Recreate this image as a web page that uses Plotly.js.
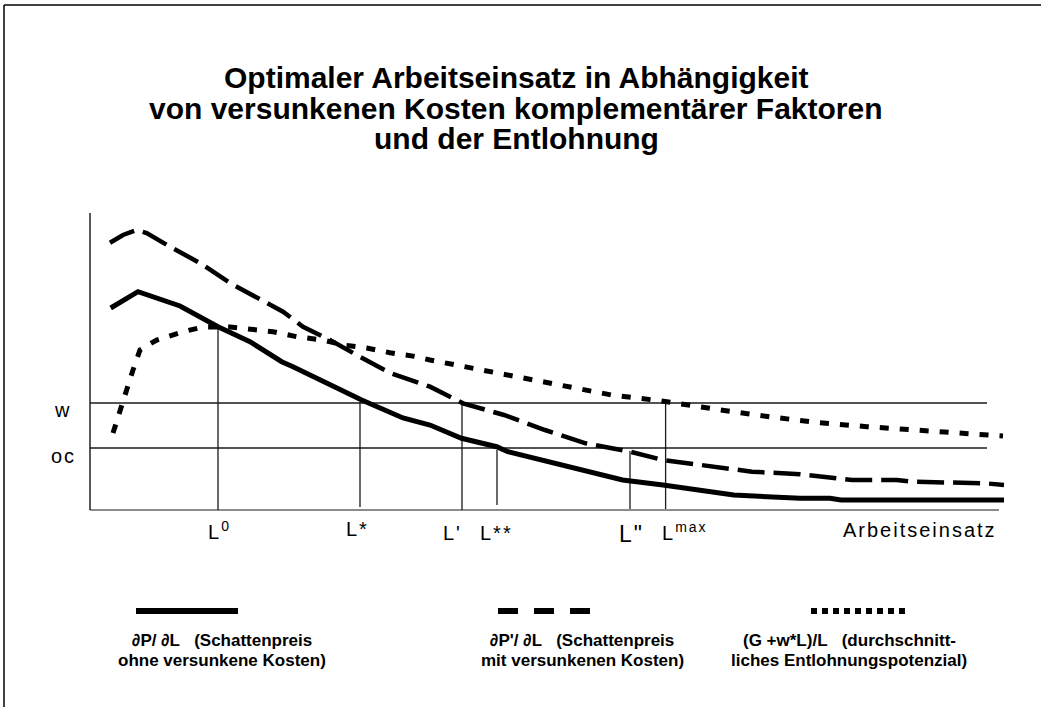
<!DOCTYPE html>
<html><head><meta charset="utf-8">
<script src="https://cdn.plot.ly/plotly-3.0.1.min.js"></script>
<style>html,body{margin:0;padding:0;background:#fff}#chart{width:1041px;height:707px}</style>
</head><body><div id="chart"></div>
<script>
// ---- data (arbitrary units: Arbeitseinsatz on x, price/wage level on y) ----
const solidX = [20.7, 48, 90, 128, 160, 191.7, 203, 260, 271.7, 313, 340, 371.5, 406.7, 417.8, 451, 488, 532.6, 573, 643.7, 710, 740, 751, 914];
const solidY = [202, 218.3, 204, 183.3, 168.3, 148.3, 143.3, 115, 110, 92, 85, 71.7, 63.3, 58.3, 50, 40, 30, 25, 15, 11.7, 11.7, 10, 10];

const dashX = [20, 33, 46.7, 56.7, 80, 110, 140, 166.7, 193, 213, 240, 266.7, 300, 340, 373, 414, 455, 495.6, 540, 573, 614, 662, 710, 762, 806.7, 821.5, 895.6, 914];
const dashY = [267.3, 275, 280, 277, 263.3, 247, 227, 212, 198.3, 183.3, 170, 155, 137, 123.3, 106.7, 95, 80, 66.7, 58.3, 50, 45, 38.3, 35.7, 30, 30, 28.3, 26.7, 25];

const dotX = [23, 31.7, 36.7, 43, 50, 66.7, 93, 113, 140, 163, 183, 206.7, 233, 253, 276.7, 300, 326.7, 340, 388, 436, 477, 521.5, 569.6, 595.6, 636, 684, 729, 777, 821.5, 866, 913];
const dotY = [77, 105, 123.3, 140, 160, 170, 178.3, 183, 183, 181, 178.3, 173.3, 170, 165, 162, 157.3, 153.3, 150, 140.7, 130.7, 124, 115, 109.3, 105, 99.3, 92.7, 87.3, 83.3, 80, 76.7, 74];

// reference levels: wage w and opportunity cost oc
const levelNames = ['w', 'oc'];
const levelValues = [107, 62];
const levelEnd = 897;

// characteristic labour inputs
const pointNames = ['L<sup>0</sup>', 'L*', "L'", 'L**', 'L"', 'L<sup>max</sup>'];
const pointX = [128, 270, 372, 407, 540, 575.6];
const pointTop = [183, 108, 107, 60, 59, 110];
const pointBottom = [0, 3, 0, 5, 1, 1];

const axisTitle = 'Arbeitseinsatz';
const axisXEnd = 909;
const axisYEnd = 297;

const titleLines = [
  'Optimaler Arbeitseinsatz in Abhängigkeit',
  'von versunkenen Kosten komplementärer Faktoren',
  'und der Entlohnung'
];

const legendLines = [
  ['\u2202P/ \u2202L\u00a0\u00a0\u00a0(Schattenpreis', 'ohne versunkene Kosten)'],
  ['\u2202P\'/ \u2202L\u00a0\u00a0\u00a0(Schattenpreis', 'mit versunkenen Kosten)'],
  ['(G +w*L)/L\u00a0\u00a0\u00a0(durchschnitt-', 'liches Entlohnungspotenzial)']
];

// ---- layout helpers (pixel -> paper) ----
const ML = 85, MR = 31, MT = 195, MB = 190, W = 1041, H = 707;
const PW = W - ML - MR, PH = H - MT - MB;
const px = v => (v - ML) / PW;
const py = v => (H - MB - v) / PH;
const FONT = 'Liberation Sans, Arial, sans-serif';

const traces = [];
// axis lines
traces.push({x: [0, axisXEnd], y: [0, 0], mode: 'lines', line: {color: '#8c8c8c', width: 2}, hoverinfo: 'skip'});
traces.push({x: [0, 0], y: [0, axisYEnd], mode: 'lines', line: {color: '#000', width: 1.3}, hoverinfo: 'skip'});
// level lines
levelValues.forEach(v => traces.push({x: [0, levelEnd], y: [v, v], mode: 'lines', line: {color: '#1a1a1a', width: 1.3}, hoverinfo: 'skip'}));
// vertical drop lines
const vx = [], vy = [];
pointX.forEach((x, i) => { vx.push(x, x, null); vy.push(pointBottom[i], pointTop[i], null); });
traces.push({x: vx, y: vy, mode: 'lines', line: {color: '#1a1a1a', width: 1.3}, hoverinfo: 'skip', connectgaps: false});
// curves
traces.push({x: dotX, y: dotY, mode: 'lines', line: {color: '#000', width: 5, dash: '9px,11px'}, hoverinfo: 'skip'});
traces.push({x: dashX, y: dashY, mode: 'lines', line: {color: '#000', width: 4.5, dash: '27px,9px'}, hoverinfo: 'skip'});
traces.push({x: solidX, y: solidY, mode: 'lines', line: {color: '#000', width: 5}, hoverinfo: 'skip'});

// label placement (pixel centres)
const pointLabelCx = [219, 357, 452, 496, 631, 685];
const pointLabelCy = [530, 529, 533, 533, 534, 531];
const pointLabelSize = [20, 20, 20, 20, 23, 20];

const annotations = [];
const spacedIdx = [];
titleLines.forEach((t, i) => {
  annotations.push({text: t, xref: 'paper', yref: 'paper', x: px(516), y: py(77 + 31 * i), xanchor: 'center', yanchor: 'middle', showarrow: false, font: {family: FONT, size: 30, color: '#000', weight: 'bold'}});
});
pointNames.forEach((t, i) => {
  spacedIdx.push(annotations.length);
  annotations.push({text: t, xref: 'paper', yref: 'paper', x: px(pointLabelCx[i]), y: py(pointLabelCy[i]), xanchor: 'center', yanchor: 'middle', showarrow: false, font: {family: FONT, size: pointLabelSize[i], color: '#000'}});
});
spacedIdx.push(annotations.length);
annotations.push({text: axisTitle, xref: 'paper', yref: 'paper', x: px(920), y: py(530), xanchor: 'center', yanchor: 'middle', showarrow: false, font: {family: FONT, size: 20, color: '#000'}});
const levelLabelCx = [62.5, 63.5];
const levelLabelCy = [410, 456];
levelNames.forEach((t, i) => {
  spacedIdx.push(annotations.length);
  annotations.push({text: t, xref: 'paper', yref: 'paper', x: px(levelLabelCx[i]), y: py(levelLabelCy[i]), xanchor: 'center', yanchor: 'middle', showarrow: false, font: {family: FONT, size: 20, color: '#000'}});
});
const legendCenters = [222, 582, 849];
legendLines.forEach((pair, i) => {
  pair.forEach((t, j) => {
    annotations.push({text: t, xref: 'paper', yref: 'paper', x: px(legendCenters[i]), y: py(640 + 20 * j), xanchor: 'center', yanchor: 'middle', showarrow: false, font: {family: FONT, size: 17, color: '#000', weight: 'bold'}});
  });
});

const shapes = [
  // page frame (top and left edges)
  {type: 'line', xref: 'paper', yref: 'paper', x0: px(4), x1: px(1041), y0: py(5), y1: py(5), line: {color: '#000', width: 1.5}},
  {type: 'line', xref: 'paper', yref: 'paper', x0: px(4), x1: px(4), y0: py(5), y1: py(707), line: {color: '#000', width: 1.5}},
  // legend samples
  {type: 'line', xref: 'paper', yref: 'paper', x0: px(136), x1: px(238), y0: py(611), y1: py(611), line: {color: '#000', width: 6}},
  {type: 'line', xref: 'paper', yref: 'paper', x0: px(498), x1: px(593), y0: py(611), y1: py(611), line: {color: '#000', width: 6, dash: '20px,16px'}},
  {type: 'line', xref: 'paper', yref: 'paper', x0: px(811), x1: px(910), y0: py(611), y1: py(611), line: {color: '#000', width: 6, dash: '6px,5px'}}
];

const layout = {
  width: W, height: H,
  margin: {l: ML, r: MR, t: MT, b: MB},
  paper_bgcolor: '#fff', plot_bgcolor: '#fff',
  showlegend: false,
  xaxis: {range: [-5, 920], showline: false, showgrid: false, zeroline: false, showticklabels: false, ticks: '', fixedrange: true},
  yaxis: {range: [-7, 315], showline: false, showgrid: false, zeroline: false, showticklabels: false, ticks: '', fixedrange: true},
  annotations: annotations,
  shapes: shapes
};

Plotly.newPlot('chart', traces, layout, {staticPlot: true, displayModeBar: false}).then(() => {
  const groups = document.querySelectorAll('g.annotation');
  groups.forEach(g => {
    const idx = parseInt(g.getAttribute('data-index'), 10);
    if (spacedIdx.indexOf(idx) >= 0) {
      const t = g.querySelector('text.annotation-text');
      if (t) t.style.letterSpacing = '2px';
    }
  });
});
</script></body></html>
